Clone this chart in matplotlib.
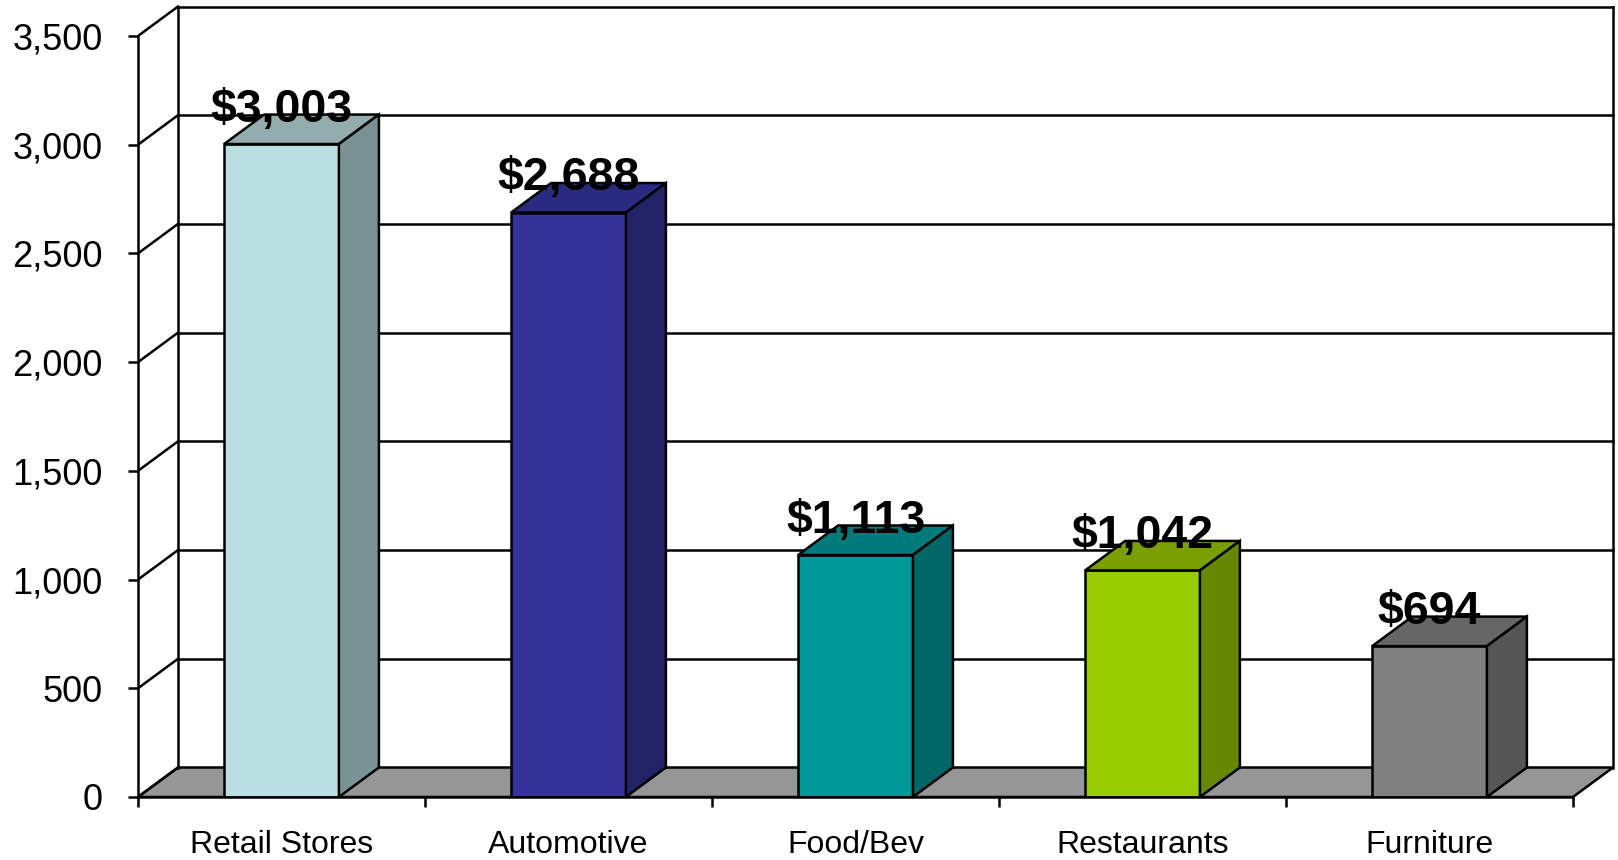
import matplotlib
matplotlib.use("Agg")
import matplotlib.pyplot as plt
from matplotlib.patches import Polygon

plt.rcParams['font.family'] = ['Liberation Sans', 'DejaVu Sans']

categories = ['Retail Stores', 'Automotive', 'Food/Bev', 'Restaurants', 'Furniture']
values = [3003, 2688, 1113, 1042, 694]
labels = ['$3,003', '$2,688', '$1,113', '$1,042', '$694']
front_colors = ['#bbe0e3', '#333399', '#009999', '#99cc00', '#808080']
top_colors = ['#93adaf', '#2a2a80', '#007a7a', '#7a9f00', '#666666']
side_colors = ['#7a9294', '#222266', '#006666', '#668800', '#555555']
yticks = [0, 500, 1000, 1500, 2000, 2500, 3000, 3500]

W, H = 1618, 860
fig = plt.figure(figsize=(W / 100, H / 100), dpi=100)

# pixel geometry of the plot box
x0_px, y0_px = 138, 797          # front-left corner (value 0)
cat_px = 287                       # width of one category
val_px = 761 / 3500                # pixels per value unit
ax = fig.add_axes([x0_px / W, (H - y0_px) / H, (W - x0_px) / W, y0_px / H])
ax.set_xlim(0, (W - x0_px) / cat_px)
ax.set_ylim(0, y0_px / val_px)

dx = 40 / cat_px                   # depth offset in category units
dy = 29.5 / val_px                 # depth offset in value units
n = len(categories)
ymax = yticks[-1]
lw = 1.8

# floor
ax.add_patch(Polygon([(0, 0), (n, 0), (n + dx, dy), (dx, dy)], closed=True,
                     facecolor='#969696', edgecolor='black', lw=lw, zorder=1))
# back wall gridlines and left wall diagonals
for v in yticks[1:]:
    ax.plot([dx, n + dx], [v + dy, v + dy], color='black', lw=lw, zorder=1)
for v in yticks:
    ax.plot([0, dx], [v, v + dy], color='black', lw=lw, zorder=1)
ax.plot([dx, dx], [dy, ymax + dy], color='black', lw=lw, zorder=1)
ax.plot([n + dx, n + dx], [dy, ymax + dy], color='black', lw=lw, zorder=1)

# bars
bw = 0.4
for i, v in enumerate(values):
    l = i + 0.5 - bw / 2
    r = i + 0.5 + bw / 2
    ax.add_patch(Polygon([(l, 0), (r, 0), (r, v), (l, v)], closed=True,
                         facecolor=front_colors[i], edgecolor='black', lw=lw, zorder=3))
    ax.add_patch(Polygon([(l, v), (r, v), (r + dx, v + dy), (l + dx, v + dy)], closed=True,
                         facecolor=top_colors[i], edgecolor='black', lw=lw, zorder=3))
    ax.add_patch(Polygon([(r, 0), (r + dx, dy), (r + dx, v + dy), (r, v)], closed=True,
                         facecolor=side_colors[i], edgecolor='black', lw=lw, zorder=3))
    ax.annotate(labels[i], (i + 0.5, v), xytext=(0, 16), textcoords='offset points',
                ha='center', va='baseline', fontsize=33.5, fontweight='bold', zorder=5)

# axes
for s in ['top', 'right']:
    ax.spines[s].set_visible(False)
ax.spines['left'].set_bounds(0, ymax)
ax.spines['bottom'].set_bounds(0, n)
ax.spines['left'].set_linewidth(lw)
ax.spines['bottom'].set_linewidth(lw)
ax.spines['left'].set_zorder(4)
ax.spines['bottom'].set_zorder(4)
ax.set_yticks(yticks)
ax.set_yticklabels([f'{t:,}' for t in yticks], fontsize=26)
ax.tick_params(axis='y', direction='out', length=7.5, width=lw, pad=18)
ax.set_xticks(range(n + 1))
ax.set_xticklabels([])
ax.set_xticks([i + 0.5 for i in range(n)], minor=True)
ax.set_xticklabels(categories, minor=True, fontsize=23)
ax.tick_params(axis='x', which='major', direction='out', length=7, width=lw)
ax.tick_params(axis='x', which='minor', length=0, pad=24)
ax.patch.set_visible(False)

fig.savefig('out.png', dpi=100)
